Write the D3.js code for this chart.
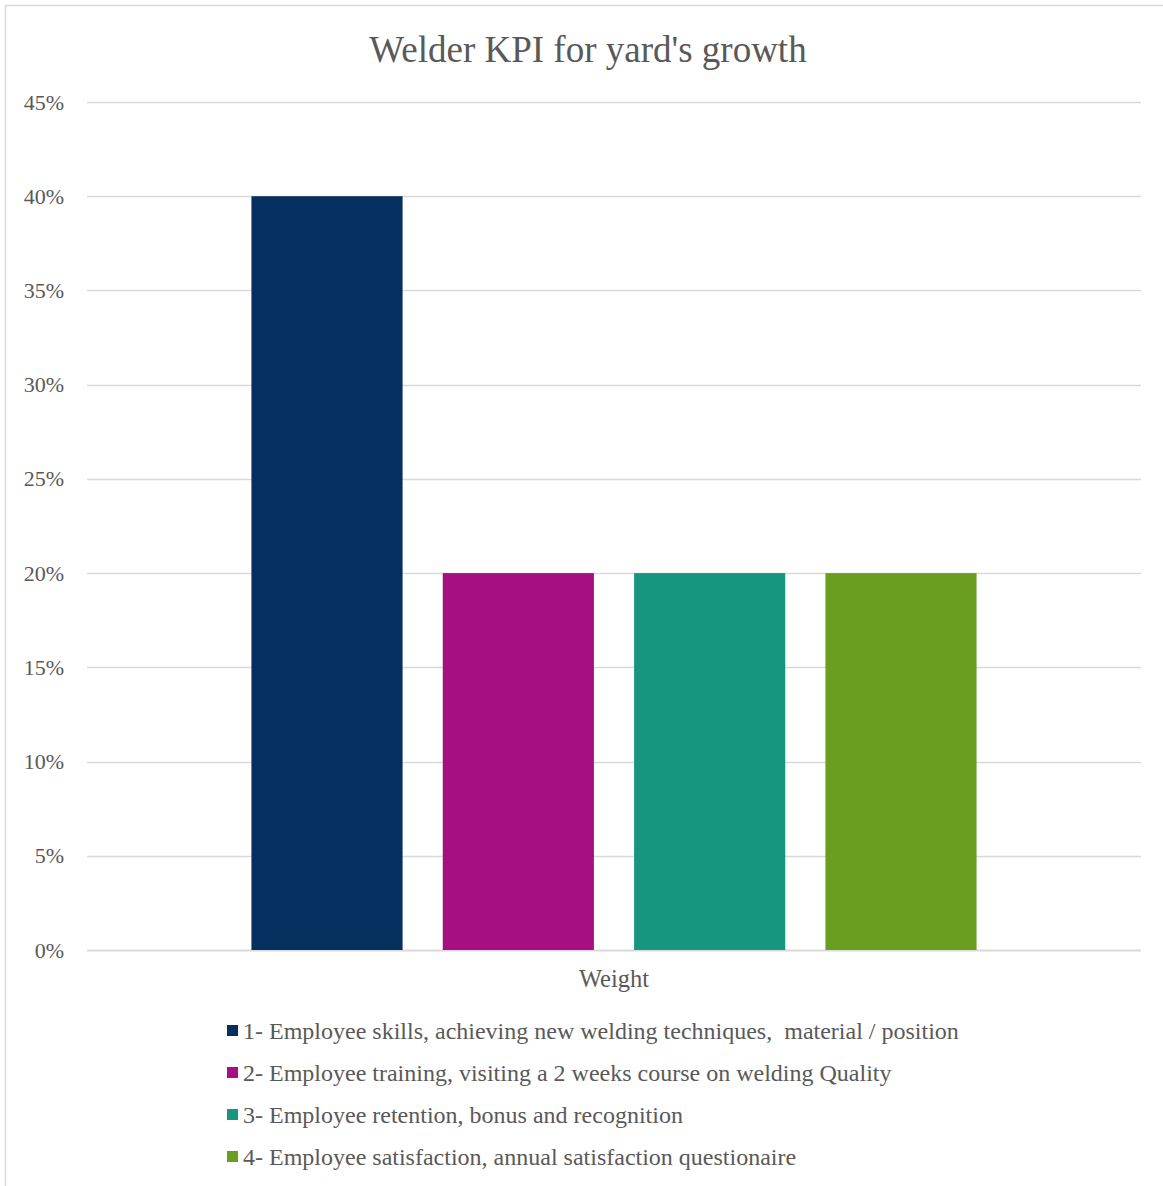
<!DOCTYPE html>
<html>
<head>
<meta charset="utf-8">
<script src="https://cdn.jsdelivr.net/npm/d3@7"></script>
<style>
  html, body { margin: 0; padding: 0; background: #fff; }
  svg { display: block; font-family: "Liberation Serif", "Times New Roman", serif; }
  .legend text { white-space: pre; }
</style>
</head>
<body>
<svg id="chart" width="1163" height="1186"></svg>
<script>
// Chart data
const title = "Welder KPI for yard's growth";
const categories = ["Weight"];
const seriesNames = [
  "1- Employee skills, achieving new welding techniques,  material / position",
  "2- Employee training, visiting a 2 weeks course on welding Quality",
  "3- Employee retention, bonus and recognition",
  "4- Employee satisfaction, annual satisfaction questionaire"
];
const seriesValues = [0.40, 0.20, 0.20, 0.20];
const seriesColors = ["#052f5e", "#a50f82", "#16967d", "#6a9e20"];
const yTicks = [0, 0.05, 0.10, 0.15, 0.20, 0.25, 0.30, 0.35, 0.40, 0.45];

const svg = d3.select("#chart");
const textColor = "#595959";
const gridColor = "#d9d9d9";

// Chart area frame
svg.append("rect")
  .attr("x", 5.5).attr("y", 5.5)
  .attr("width", 1170).attr("height", 1190)
  .attr("fill", "#fff")
  .attr("stroke", gridColor)
  .attr("stroke-width", 1.5);

const plot = { left: 87, right: 1141, top: 102, bottom: 950 };

const y = d3.scaleLinear().domain([0, 0.45]).range([plot.bottom, plot.top]);

// Category band and series band inside it
const x0 = d3.scaleBand().domain(categories)
  .range([plot.left, plot.right]).paddingInner(0).paddingOuter(0);
const groupPad = 0.156; // fraction of band left empty on each side
const x1 = d3.scaleBand().domain(d3.range(seriesValues.length))
  .range([x0.bandwidth() * groupPad, x0.bandwidth() * (1 - groupPad)])
  .paddingInner(0.21).paddingOuter(0);

// Gridlines
svg.append("g")
  .selectAll("line")
  .data(yTicks)
  .join("line")
  .attr("x1", plot.left).attr("x2", plot.right)
  .attr("y1", d => Math.round(y(d)) + 0.5)
  .attr("y2", d => Math.round(y(d)) + 0.5)
  .attr("stroke", gridColor)
  .attr("stroke-width", d => d === 0 ? 2 : 1.5);

// Y axis labels
const yAxis = d3.axisLeft(y)
  .tickValues(yTicks)
  .tickFormat(d3.format(".0%"))
  .tickSize(0)
  .tickPadding(0);
const yg = svg.append("g")
  .attr("transform", `translate(64,0)`)
  .call(yAxis);
yg.select(".domain").remove();
yg.selectAll("text")
  .attr("fill", textColor)
  .style("font-family", "Liberation Serif, serif")
  .style("font-size", "22px");

// Bars
const groups = svg.append("g")
  .selectAll("g")
  .data(categories)
  .join("g")
  .attr("transform", d => `translate(${x0(d)},0)`);

groups.selectAll("rect")
  .data(seriesValues.map((v, i) => ({ v, i })))
  .join("rect")
  .attr("x", d => x1(d.i))
  .attr("width", x1.bandwidth())
  .attr("y", d => y(d.v))
  .attr("height", d => y(0) - y(d.v))
  .attr("fill", d => seriesColors[d.i]);

// X axis category label
const xAxis = d3.axisBottom(x0).tickSize(0).tickPadding(0);
const xg = svg.append("g")
  .attr("transform", `translate(0,${plot.bottom + 37})`)
  .call(xAxis);
xg.select(".domain").remove();
xg.selectAll("text")
  .attr("dy", 0)
  .attr("fill", textColor)
  .style("font-family", "Liberation Serif, serif")
  .style("font-size", "24.5px");

// Title
svg.append("text")
  .attr("x", 588)
  .attr("y", 62)
  .attr("text-anchor", "middle")
  .attr("fill", textColor)
  .style("font-size", "37px")
  .text(title);

// Legend
const legend = svg.append("g").attr("class", "legend");
const legendRows = legend.selectAll("g")
  .data(seriesNames)
  .join("g")
  .attr("transform", (d, i) => `translate(227,${1031 + i * 42})`);

legendRows.append("rect")
  .attr("x", 0).attr("y", -6)
  .attr("width", 11).attr("height", 11)
  .attr("fill", (d, i) => seriesColors[i]);

legendRows.append("text")
  .attr("x", 16)
  .attr("y", 8)
  .attr("fill", textColor)
  .style("font-size", "24px")
  .text(d => d);
</script>
</body>
</html>
